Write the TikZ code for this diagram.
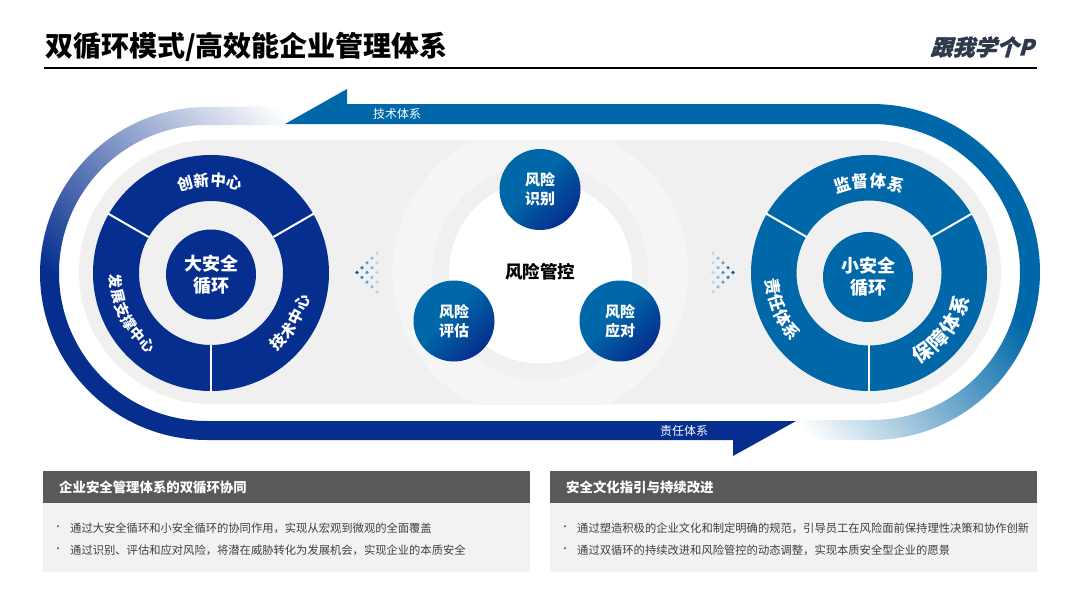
\documentclass[tikz,border=0pt]{standalone}
\usepackage{fontspec}
\usepackage{xcolor}
\setmainfont{Noto Sans CJK SC}
\newfontfamily\logofont[BoldFeatures={FakeSlant=0.28,FakeBold=1.5}]{Noto Sans CJK SC}
\usetikzlibrary{positioning,calc}
\definecolor{navycolor}{HTML}{052E8E}
\definecolor{bluecolor}{HTML}{0067A8}
\definecolor{panelcolor}{HTML}{F0F0F1}
\definecolor{ringcolor}{HTML}{F5F5F6}
\definecolor{headcolor}{HTML}{595959}
\definecolor{bodycolor}{HTML}{F2F2F2}
\definecolor{logocolor}{HTML}{2E3A4B}
\pgfdeclarehorizontalshading{leftfade}{100bp}{color(0bp)=(navycolor); color(28bp)=(navycolor); color(69.3bp)=(white); color(100bp)=(white)}
\pgfdeclarehorizontalshading{rightfade}{100bp}{color(0bp)=(white); color(32.8bp)=(white); color(72.7bp)=(bluecolor); color(100bp)=(bluecolor)}
\pgfdeclarehorizontalshading{riskshade}{100bp}{color(0bp)=(bluecolor); color(45bp)=(bluecolor); color(75bp)=(navycolor); color(100bp)=(navycolor)}

\begin{document}
\begin{tikzpicture}[
    x=1pt, y=1pt,
    core/.style={circle, inner sep=0pt, minimum size=90pt, text=white, align=center, font=\fontsize{18}{22}\selectfont\bfseries},
    riskcircle/.style={circle, inner sep=0pt, minimum size=81pt, text=white, align=center, shading=riskshade, shading angle=-45, font=\fontsize{15}{19}\selectfont\bfseries},
    ringchar/.style={text=white, inner sep=0pt, font=\fontsize{15.5}{15.5}\selectfont\bfseries},
    bandlabel/.style={text=white, inner sep=0pt, font=\fontsize{12}{13}\selectfont},
    boxhead/.style={text=white, inner sep=0pt, anchor=west, font=\fontsize{13.4}{16}\selectfont\bfseries},
    boxline/.style={text=black!75, inner sep=0pt, anchor=west, font=\fontsize{11.3}{14}\selectfont},
    boxdot/.style={text=black!60, inner sep=0pt, font=\fontsize{10}{11}\selectfont},
  ]
  \useasboundingbox (0,0) rectangle (1080,-608);
  \fill[white] (0,0) rectangle (1080,-608);

  % header
  \node[inner sep=0pt, anchor=west, font=\fontsize{28}{32}\selectfont\bfseries] (title) at (45,-47)
    {双循环模式/高效能企业管理体系};
  \node[inner sep=0pt, text=logocolor, font=\fontsize{22}{24}\logofont\bfseries] (logo) at (982,-47) {跟我学个P};
  \draw[line width=2pt] (44,-67.5) -- (1037,-67.5);

  % gray panel and rings
  \fill[panelcolor, rounded corners=132pt] (79,-140) rectangle (1001,-404);
  \begin{scope}
    \clip (79,-140) rectangle (1001,-404);
    \fill[ringcolor] (540.5,-272) circle (148);
    \fill[panelcolor] (540.5,-272) circle (108);
    \fill[white] (540.5,-272) circle (91.5);
  \end{scope}

  % left band
  \fill[navycolor] (40,-273) arc (180:270:167) -- (733,-440) -- (733,-456) -- (796,-421)
    -- (207,-421) arc (270:180:148) -- cycle;
  \begin{scope}
    \clip (40,-274) arc (180:90:167) -- (292,-106) -- (292,-125) -- (207,-125) arc (90:180:148) -- (59,-274) -- cycle;
    \shade[shading=leftfade, shading angle=45] (-3,-352) rectangle (337,-12);
  \end{scope}

  % right band
  \fill[bluecolor] (285,-124) -- (347,-89) -- (347,-104) -- (872,-104) arc (90:-10:168)
    -- ({872+148*cos(10)},{-272-148*sin(10)}) arc (-10:90:148) -- cycle;
  \begin{scope}
    \clip ({872+168*cos(9.5)},{-272-168*sin(9.5)}) arc (-9.5:-90:168) -- (796,-440) -- (796,-420) -- (872,-420)
      arc (-90:-9.5:148) -- cycle;
    \shade[shading=rightfade, shading angle=37] (760,-250) rectangle (1060,-550);
  \end{scope}

  \node[bandlabel] (techband) at (397,-114) {技术体系};
  \node[bandlabel] (dutyband) at (684,-431) {责任体系};

  % left donut
  \coordinate (bigring) at (211,-273);
  \fill[navycolor, even odd rule] (bigring) circle (118) circle (72);
  \node[core, fill=navycolor] (bigcore) at (211,-274.5) {大安全\\循环};
  \foreach \ang in {30,150,270}
    \draw[white, line width=2pt] ($(bigring)+(\ang:72)$) -- ($(bigring)+(\ang:119)$);
  \foreach \ch/\ang [count=\i] in {创/106, 新/96, 中/85.5, 心/75.5}
    \node[ringchar, rotate=\ang-90] (innov\i) at ($(bigring)+(\ang:93)$) {\ch};
  \foreach \ch/\ang [count=\i] in {发/185, 展/193.8, 支/202.6, 撑/211.4, 中/220.2, 心/229}
    \node[ringchar, rotate=\ang+90, font=\fontsize{14.5}{14.5}\selectfont\bfseries] (devel\i) at ($(bigring)+(\ang:96)$) {\ch};
  \foreach \ch/\ang [count=\i] in {技/-46, 术/-36.7, 中/-27.3, 心/-18}
    \node[ringchar, rotate=\ang+90] (tech\i) at ($(bigring)+(\ang:96)$) {\ch};

  % right donut
  \coordinate (smallring) at (869,-273);
  \fill[bluecolor, even odd rule] (smallring) circle (118) circle (72.5);
  \node[core, fill=bluecolor] (smallcore) at (868,-277) {小安全\\循环};
  \foreach \ang in {30,150,270}
    \draw[white, line width=2pt] ($(smallring)+(\ang:72)$) -- ($(smallring)+(\ang:119)$);
  \foreach \ch/\ang [count=\i] in {监/107, 督/95.5, 体/84, 系/72.5}
    \node[ringchar, rotate=\ang-90, font=\fontsize{16.5}{16.5}\selectfont\bfseries] (super\i) at ($(smallring)+(\ang:92)$) {\ch};
  \foreach \ch/\ang [count=\i] in {责/188, 任/197.7, 体/207.3, 系/217}
    \node[ringchar, rotate=\ang+90, font=\fontsize{16.5}{16.5}\selectfont\bfseries] (duty\i) at ($(smallring)+(\ang:97)$) {\ch};
  \foreach \ch/\ang [count=\i] in {保/-56, 障/-44, 体/-32, 系/-20}
    \node[ringchar, rotate=\ang+90, font=\fontsize{20}{20}\selectfont\bfseries] (guard\i) at ($(smallring)+(\ang:96)$) {\ch};

  % risk circles
  \node[inner sep=0pt, font=\fontsize{17.5}{20}\selectfont\bfseries] (riskcenter) at (540,-272) {风险管控};
  \node[riskcircle] (identify) at (540,-189.5) {风险\\识别};
  \node[riskcircle] (assess) at (454,-321) {风险\\评估};
  \node[riskcircle] (respond) at (620,-321) {风险\\应对};

  % dot arrows
  \foreach \k in {0,...,4} {
    \pgfmathsetmacro{\op}{1-0.2*\k}
    \foreach \j in {0,...,\k} {
      \fill[bluecolor, opacity=\op] ({357+5*\k},{-272.5+9.6*(\j-\k/2)}) circle (1.8);
      \fill[bluecolor, opacity=\op] ({733-5*\k},{-272.5+9.6*(\j-\k/2)}) circle (1.8);
    }
  }

  % bottom boxes
  \fill[headcolor] (43,-471) rectangle (530,-503);
  \fill[bodycolor] (43,-503) rectangle (530,-572);
  \fill[headcolor] (550,-471) rectangle (1037,-503);
  \fill[bodycolor] (550,-503) rectangle (1037,-572);
  \node[boxhead] (lefthead) at (59,-487) {企业安全管理体系的双循环协同};
  \node[boxhead] (righthead) at (566,-487) {安全文化指引与持续改进};
  \node[boxdot] (leftdota) at (58,-528) {•};
  \node[boxdot] (leftdotb) at (58,-550) {•};
  \node[boxdot] (rightdota) at (565,-528) {•};
  \node[boxdot] (rightdotb) at (565,-550) {•};
  \node[boxline] (leftlinea) at (70,-528.5) {通过大安全循环和小安全循环的协同作用，实现从宏观到微观的全面覆盖};
  \node[boxline] (leftlineb) at (70,-550.5) {通过识别、评估和应对风险，将潜在威胁转化为发展机会，实现企业的本质安全};
  \node[boxline] (rightlinea) at (577,-528.5) {通过塑造积极的企业文化和制定明确的规范，引导员工在风险面前保持理性决策和协作创新};
  \node[boxline] (rightlineb) at (577,-550.5) {通过双循环的持续改进和风险管控的动态调整，实现本质安全型企业的愿景};
\end{tikzpicture}
\end{document}
